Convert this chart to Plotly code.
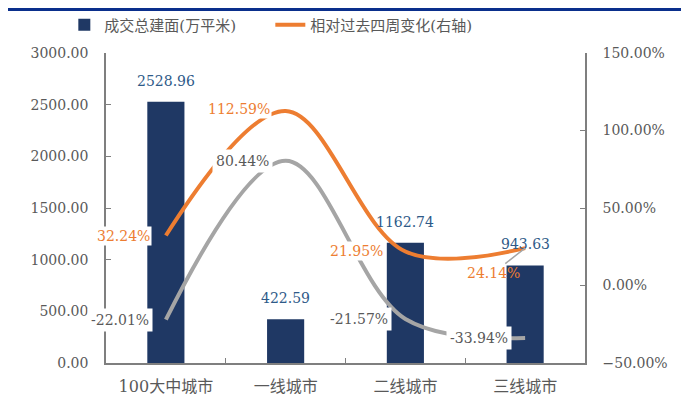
import plotly.graph_objects as go

categories = ["100大中城市", "一线城市", "二线城市", "三线城市"]
area = [2528.96, 422.59, 1162.74, 943.63]
change_orange = [32.24, 112.59, 21.95, 24.14]
change_gray = [-22.01, 80.44, -21.57, -33.94]

NAVY = "#1F3864"
ORANGE = "#ED7D31"
GRAY = "#A5A5A5"
TXT = "#595959"
BLUE_TXT = "#2E5A88"
FONT = "DejaVu Serif, Noto Sans CJK SC, serif"

fig = go.Figure()
fig.add_trace(go.Bar(x=categories, y=area, name="成交总建面(万平米)",
                     marker=dict(color=NAVY, line=dict(width=0)), width=0.31))
fig.add_trace(go.Scatter(x=categories, y=[v / 100 for v in change_orange],
                         name="相对过去四周变化(右轴)", yaxis="y2", mode="lines",
                         line=dict(color=ORANGE, width=4, shape="spline", smoothing=1)))
fig.add_trace(go.Scatter(x=categories, y=[v / 100 for v in change_gray],
                         name="gray", yaxis="y2", mode="lines", showlegend=False,
                         line=dict(color=GRAY, width=4, shape="spline", smoothing=1)))

ann = []
for c, v in zip(categories, area):
    ann.append(dict(x=c, y=v, xref="x", yref="y", text=f"{v:.2f}", showarrow=False,
                    yanchor="bottom", yshift=11,
                    font=dict(family=FONT, size=14, color=BLUE_TXT)))

orange_shift = [(-14, 0), (-14, 2), (-20, 0)]
for c, v, (dx, dy) in zip(categories[:3], change_orange[:3], orange_shift):
    ann.append(dict(x=c, y=v / 100, xref="x", yref="y2", text=f"{v:.2f}%", showarrow=False,
                    xanchor="right", xshift=dx, yshift=dy, bgcolor="white", borderpad=1,
                    font=dict(family=FONT, size=14, color=ORANGE)))
ann.append(dict(x=categories[3], y=change_orange[3] / 100, xref="x", yref="y2",
                text=f"{change_orange[3]:.2f}%", showarrow=True, arrowhead=0,
                arrowcolor=GRAY, arrowwidth=1.5, ax=-32, ay=25, standoff=0,
                font=dict(family=FONT, size=14, color=ORANGE)))

for c, v in zip(categories, change_gray):
    ann.append(dict(x=c, y=v / 100, xref="x", yref="y2", text=f"{v:.2f}%", showarrow=False,
                    xanchor="right", xshift=-13, bgcolor="white", borderpad=3,
                    font=dict(family=FONT, size=14, color=TXT)))

fig.update_layout(
    width=689, height=403,
    margin=dict(l=98, r=112, t=45, b=48, autoexpand=False),
    plot_bgcolor="white", paper_bgcolor="white",
    font=dict(family=FONT, size=14, color=TXT),
    showlegend=True,
    legend=dict(orientation="h", x=-0.087, xanchor="left", y=1.09, yanchor="middle",
                entrywidth=161, entrywidthmode="pixels", itemwidth=30,
                font=dict(family=FONT, size=15, color=TXT), bgcolor="rgba(0,0,0,0)"),
    xaxis=dict(type="category", range=[-0.5, 3.5], showline=True, linecolor="#7F7F7F",
               linewidth=1.5, ticks="inside", tickson="boundaries", ticklen=5,
               tickcolor="#7F7F7F", showgrid=False, automargin=False, ticklabelstandoff=8,
               tickfont=dict(family=FONT, size=16, color=TXT)),
    yaxis=dict(range=[0, 3000], dtick=500, tickformat=".2f", showline=True,
               linecolor="#7F7F7F", linewidth=1.5, ticks="inside", ticklen=5,
               tickcolor="#7F7F7F", showgrid=False, zeroline=False, automargin=False,
               ticklabelstandoff=13,
               tickfont=dict(family=FONT, size=14, color=TXT)),
    yaxis2=dict(range=[-0.5, 1.5], dtick=0.5, tickformat=".2%", overlaying="y", side="right",
                showline=True, linecolor="#7F7F7F", linewidth=1.5, ticks="inside", ticklen=5,
                tickcolor="#7F7F7F", showgrid=False, zeroline=False, automargin=False,
                ticklabelstandoff=13,
                tickfont=dict(family=FONT, size=14, color=TXT)),
    annotations=ann,
    shapes=[dict(type="line", xref="paper", yref="paper", x0=-0.25, x1=1.25,
                 y0=1.14, y1=1.14, line=dict(color="#0A2F8C", width=3))],
)

fig.write_html("out.html")
